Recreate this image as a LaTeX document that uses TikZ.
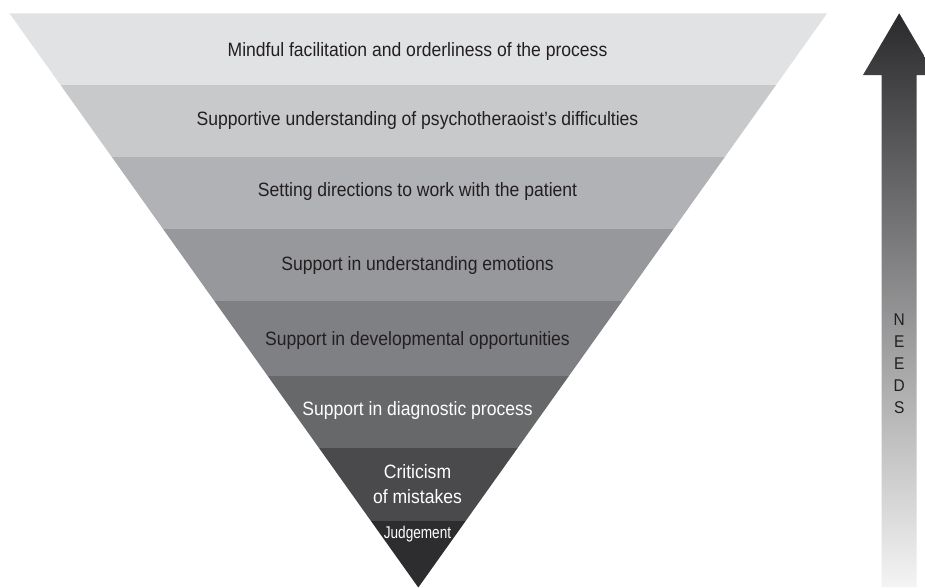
\documentclass[tikz,border=0pt]{standalone}
\usepackage{fontspec}
\setmainfont{Liberation Sans}[FakeStretch=0.91]
\newfontfamily\narrowfont{Liberation Sans}[FakeStretch=0.80]
\definecolor{bandA}{HTML}{E1E2E4}
\definecolor{bandB}{HTML}{C8C9CB}
\definecolor{bandC}{HTML}{B1B2B5}
\definecolor{bandD}{HTML}{97989B}
\definecolor{bandE}{HTML}{7F8083}
\definecolor{bandF}{HTML}{67686A}
\definecolor{bandG}{HTML}{4A4A4C}
\definecolor{bandH}{HTML}{2D2C2E}
\definecolor{txtdark}{HTML}{231F20}
\definecolor{arrowtop}{HTML}{2A2A2C}
\definecolor{arrowbot}{HTML}{F4F4F5}
\tikzset{
  lvl/.style={anchor=base, inner sep=0pt, text=txtdark, font=\fontsize{19.3}{25}\selectfont},
  lvlw/.style={lvl, text=white},
}
\begin{document}
\begin{tikzpicture}[x=1pt,y=-1pt]
\clip (0,0) rectangle (925,587);
\fill[white] (0,0) rectangle (925,587);
% triangle corners
\coordinate (TL) at (9.5,13.3);
\coordinate (TR) at (827.1,13.3);
\coordinate (AP) at (418.3,587.5);
\begin{scope}
  \clip (TL) -- (TR) -- (AP) -- cycle;
  \fill[bandA] (0,13.3) rectangle (925,85);
  \fill[bandB] (0,85) rectangle (925,157);
  \fill[bandC] (0,157) rectangle (925,229);
  \fill[bandD] (0,229) rectangle (925,301);
  \fill[bandE] (0,301) rectangle (925,376);
  \fill[bandF] (0,376) rectangle (925,448);
  \fill[bandG] (0,448) rectangle (925,521);
  \fill[bandH] (0,521) rectangle (925,590);
\end{scope}
% labels
\node[lvl] (l1) at (417.5,56.3) {Mindful facilitation and orderliness of the process};
\node[lvl] (l2) at (417.5,125) {Supportive understanding of psychotheraoist’s difficulties};
\node[lvl] (l3) at (417.5,196.7) {Setting directions to work with the patient};
\node[lvl] (l4) at (417.5,270) {Support in understanding emotions};
\node[lvl] (l5) at (417.5,345) {Support in developmental opportunities};
\node[lvlw] (l6) at (417.5,415) {Support in diagnostic process};
\node[lvlw, anchor=center, align=center] (l7) at (417.5,483.8) {Criticism\\of mistakes};
\node[anchor=base, inner sep=0pt, text=white, font=\narrowfont\fontsize{17}{20}\selectfont] (l8) at (417.5,538) {Judgement};
% needs arrow
\shade[top color=arrowtop, bottom color=arrowbot]
  (881.7,587) -- (881.7,75) -- (863,75) -- (899.2,13.3) -- (935.4,75) -- (916.7,75) -- (916.7,587) -- cycle;
\node[anchor=center, inner sep=0pt, align=center, text=txtdark, font=\fontsize{17}{22}\selectfont] (needs) at (899.2,364) {N\\E\\E\\D\\S};
\end{tikzpicture}
\end{document}
